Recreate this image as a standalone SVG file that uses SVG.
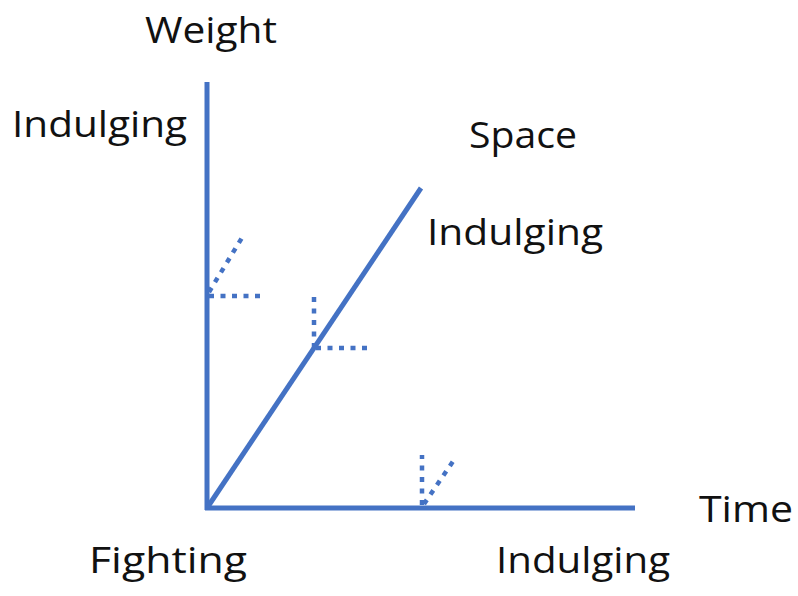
<svg xmlns="http://www.w3.org/2000/svg" width="798" height="596" viewBox="0 0 798 596">
<style>
.axis{stroke:#4472C4;stroke-width:5;fill:none;stroke-linecap:butt}
.dot{stroke:#4472C4;stroke-width:4.5;fill:none;stroke-dasharray:5 6.5}
text{font-family:"Open Sans","Liberation Sans",sans-serif;font-size:37px;fill:#111}
</style>
<rect width="798" height="596" fill="#fff"/>
<g id="connectors">
<line class="axis" x1="207" y1="82" x2="207" y2="510"/>
<line class="axis" x1="205" y1="508" x2="635" y2="508"/>
<line class="axis" x1="207" y1="508" x2="421" y2="188"/>
<line class="dot" x1="209" y1="296" x2="262" y2="296"/>
<line class="dot" x1="209" y1="292" x2="243" y2="236"/>
<line class="dot" x1="314" y1="348" x2="314" y2="296"/>
<line class="dot" x1="316" y1="348" x2="368" y2="348"/>
<line class="dot" x1="422" y1="505" x2="422" y2="455"/>
<line class="dot" x1="424" y1="504" x2="456" y2="457"/>
</g>
<g id="weight"><text x="145" y="43" textLength="132" lengthAdjust="spacingAndGlyphs">Weight</text></g>
<g id="indulging-weight"><text x="12" y="137" textLength="175" lengthAdjust="spacingAndGlyphs">Indulging</text></g>
<g id="space"><text x="469" y="148" textLength="108" lengthAdjust="spacingAndGlyphs">Space</text></g>
<g id="indulging-space"><text x="427" y="245" textLength="176" lengthAdjust="spacingAndGlyphs">Indulging</text></g>
<g id="time"><text x="699" y="522" textLength="94" lengthAdjust="spacingAndGlyphs">Time</text></g>
<g id="fighting"><text x="89" y="573" textLength="158" lengthAdjust="spacingAndGlyphs">Fighting</text></g>
<g id="indulging-time"><text x="496" y="573" textLength="174" lengthAdjust="spacingAndGlyphs">Indulging</text></g>
</svg>
